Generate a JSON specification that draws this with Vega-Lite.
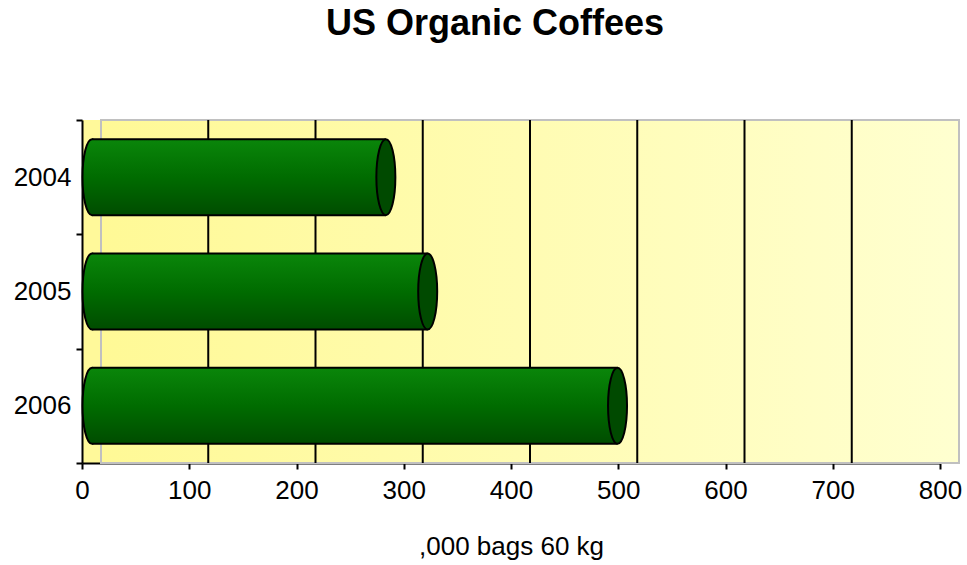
{
  "$schema": "https://vega.github.io/schema/vega-lite/v6.json",
  "autosize": "none",
  "width": 858,
  "height": 343,
  "padding": {"left": 82, "top": 120, "right": 27, "bottom": 102},
  "background": "white",
  "config": {
    "view": {"fill": "#FFF99A", "stroke": null},
    "font": "Liberation Sans"
  },
  "title": {
    "text": "US Organic Coffees",
    "fontSize": 36,
    "fontWeight": "bold",
    "font": "Liberation Sans",
    "color": "black",
    "anchor": "middle",
    "frame": "group",
    "baseline": "alphabetic",
    "offset": 36,
    "dx": -16
  },
  "datasets": {
    "bars": [
      {"year": "2004", "start": 0, "value": 274},
      {"year": "2005", "start": 0, "value": 313},
      {"year": "2006", "start": 0, "value": 490}
    ],
    "wall": [
      {"lo": 0, "hi": 800}
    ],
    "grid": [
      {"g": 100}, {"g": 200}, {"g": 300}, {"g": 400}, {"g": 500}, {"g": 600}, {"g": 700}
    ]
  },
  "layer": [
    {
      "data": {"name": "wall"},
      "mark": {
        "type": "rect",
        "xOffset": 19,
        "x2Offset": 19,
        "stroke": "#C0C0C0",
        "strokeWidth": 2,
        "fill": {
          "gradient": "linear",
          "x1": 0, "y1": 0, "x2": 1, "y2": 0,
          "stops": [
            {"offset": 0, "color": "#FFF996"},
            {"offset": 1, "color": "#FFFFD0"}
          ]
        }
      },
      "encoding": {
        "x": {"field": "lo", "type": "quantitative", "scale": {"domain": [0, 800], "nice": false}},
        "x2": {"field": "hi"}
      }
    },
    {
      "data": {"name": "grid"},
      "mark": {"type": "rule", "xOffset": 19, "color": "black", "strokeWidth": 2},
      "encoding": {
        "x": {"field": "g", "type": "quantitative"}
      }
    },
    {
      "data": {"name": "bars"},
      "mark": {
        "type": "point",
        "filled": true,
        "opacity": 1,
        "xOffset": 10,
        "shape": "M0,-1 A0.25,1 0 1,1 0,1 A0.25,1 0 1,1 0,-1 Z",
        "size": 5776,
        "stroke": "black",
        "strokeWidth": 2,
        "fill": {
          "gradient": "linear",
          "x1": 0, "y1": 0, "x2": 0, "y2": 1,
          "stops": [
            {"offset": 0, "color": "#0A860A"},
            {"offset": 0.5, "color": "#006C00"},
            {"offset": 1, "color": "#004C00"}
          ]
        }
      },
      "encoding": {
        "x": {"field": "start", "type": "quantitative"},
        "y": {"field": "year", "type": "nominal"}
      }
    },
    {
      "data": {"name": "bars"},
      "mark": {
        "type": "bar",
        "height": {"band": 0.665},
        "xOffset": 10,
        "x2Offset": 10,
        "fill": {
          "gradient": "linear",
          "x1": 0, "y1": 0, "x2": 0, "y2": 1,
          "stops": [
            {"offset": 0, "color": "#0A860A"},
            {"offset": 0.5, "color": "#006C00"},
            {"offset": 1, "color": "#004C00"}
          ]
        }
      },
      "encoding": {
        "x": {"field": "start", "type": "quantitative"},
        "x2": {"field": "value"},
        "y": {
          "field": "year",
          "type": "nominal",
          "scale": {"paddingInner": 0, "paddingOuter": 0},
          "axis": {
            "title": null,
            "tickBand": "extent",
            "domainColor": "black",
            "domainWidth": 2,
            "tickColor": "black",
            "tickWidth": 2,
            "tickSize": 6,
            "labelFontSize": 26,
            "labelColor": "black",
            "labelPadding": 5,
            "labelFont": "Liberation Sans"
          }
        }
      }
    },
    {
      "data": {"name": "bars"},
      "mark": {"type": "rule", "xOffset": 10, "x2Offset": 10, "yOffset": -38, "color": "black", "strokeWidth": 2},
      "encoding": {
        "x": {"field": "start", "type": "quantitative"},
        "x2": {"field": "value"},
        "y": {"field": "year", "type": "nominal"}
      }
    },
    {
      "data": {"name": "bars"},
      "mark": {"type": "rule", "xOffset": 10, "x2Offset": 10, "yOffset": 38, "color": "black", "strokeWidth": 2},
      "encoding": {
        "x": {"field": "start", "type": "quantitative"},
        "x2": {"field": "value"},
        "y": {"field": "year", "type": "nominal"}
      }
    },
    {
      "data": {"name": "bars"},
      "mark": {
        "type": "point",
        "filled": true,
        "opacity": 1,
        "xOffset": 10,
        "shape": "M0,-1 A0.25,1 0 1,1 0,1 A0.25,1 0 1,1 0,-1 Z",
        "size": 5776,
        "stroke": "black",
        "strokeWidth": 2,
        "fill": "#004A00"
      },
      "encoding": {
        "x": {
          "field": "value",
          "type": "quantitative",
          "axis": {
            "title": ",000 bags 60 kg",
            "titleFontSize": 26,
            "titleFontWeight": "normal",
            "titleColor": "black",
            "titleFont": "Liberation Sans",
            "titlePadding": 30,
            "values": [0, 100, 200, 300, 400, 500, 600, 700, 800],
            "grid": false,
            "domainColor": "black",
            "domainWidth": 2,
            "tickColor": "black",
            "tickWidth": 2,
            "tickSize": 6,
            "labelFontSize": 26,
            "labelColor": "black",
            "labelPadding": 8,
            "labelFont": "Liberation Sans",
            "labelFlush": false
          }
        },
        "y": {"field": "year", "type": "nominal"}
      }
    }
  ]
}
